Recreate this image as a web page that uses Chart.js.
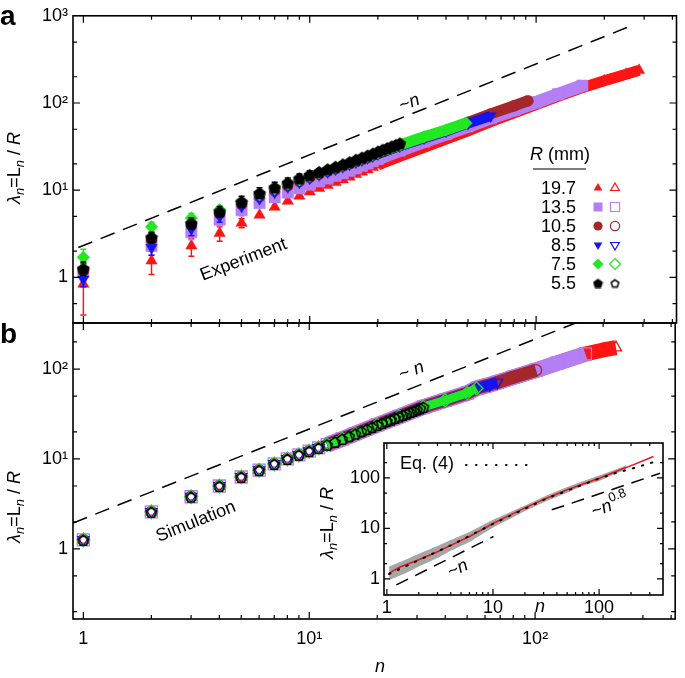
<!DOCTYPE html>
<html>
<head>
<meta charset="utf-8">
<script src="https://cdn.jsdelivr.net/npm/chart.js@4.4.0/dist/chart.umd.min.js"></script>
<style>
  body { margin: 0; background: #fff; }
  #wrap { position: relative; width: 685px; height: 678px; }
  canvas { position: absolute; left: 0; top: 0; }
</style>
</head>
<body>
<div id="wrap">
  <canvas id="chartA" width="685" height="678"></canvas>
  <canvas id="chartB" width="685" height="678"></canvas>
  <canvas id="chartC" width="685" height="678"></canvas>
</div>
<script>
const FONT = "'Liberation Sans', Arial, sans-serif";

// R (mm) of the six experiments / simulations
const radii = ['19.7', '13.5', '10.5', '8.5', '7.5', '5.5'];
const seriesColors = ['#ff1414', '#b47ef4', '#a3272b', '#1414f0', '#22e822', '#000000'];

// ---- panel a : experiment ----
const expRedN = [1,2,3,4,5,6,7,8,9,10,11,12,13,14,15,16,17,18,19,20,25,32,40,50,63,80,100,125,160,200,250,285];
const expRedL = [0.84,1.55,2.3,3.2,4.2,5.2,6.4,7.5,8.6,9.6,10.5,11.4,12.3,13.2,14.2,15.2,16.2,17.2,18.3,19.5,24.5,31,38.5,48,61,77,96,119,150,180,214,237];
const expPurN = [1,2,3,4,5,6,7,8,9,10,11,12,13,14,15,16,17,18,19,20,25,32,40,50,63,80,100,125,160];
const expPurL = [1.15,2.3,3.3,4.6,5.9,7.1,8.3,9.4,10.5,11.6,12.6,13.6,14.6,15.6,16.7,17.8,19,20.2,21.6,22.8,28.5,36,44,54,67,83,102,126,158];
const expBrnN = [1,2,3,4,5,6,7,8,9,10,11,12,13,14,15,16,17,18,19,20,25,32,40,50,63,80,92];
const expBrnL = [1.2,2.7,4.0,5.4,6.9,8.4,9.8,11.2,12.6,14,15.3,16.5,17.7,18.9,20.1,21.3,22.5,23.8,25.1,26.4,32.5,40,48,60,75,93,106];
const expBluN = [1,2,3,4,5,6,7,8,9,10,11,12,13,14,15,16,17,18,19,20,25,32,40,50,63];
const expBluL = [0.95,2.2,3.6,5.0,6.5,8,9.5,10.9,12.3,13.7,15,16.2,17.4,18.6,19.8,21,22.2,23.4,24.7,26,32,39.5,47.5,58,71];
const expGrnN = [1,2,3,4,5,6,7,8,9,10,11,12,13,14,15,16,17,18,19,20,25,32,40,49];
const expGrnL = [1.7,3.8,4.8,6.0,7.4,8.9,10.4,11.8,13.2,14.6,15.9,17.1,18.3,19.5,20.7,21.9,23.1,24.4,25.7,27,33,41,49,59];
const expBlkN = [1,2,3,4,5,6,7,8,9,10,11,12,13,14,15,16,17,18,19,20,21,22,23,24,25];
const expBlkL = [1.26,2.9,4.2,5.7,7.4,9.3,10.8,12.2,13.7,15,16.2,17.4,18.6,19.8,21,22.4,23.7,25,26.4,27.8,29.2,30.5,31.9,33.2,34.6];

// error bars (panel a)
const errRedN = [1,2,3,4,5];          const errRedLo = [0.37,1.08,1.75,2.6,3.7];   const errRedHi = [1.15,2.0,2.8,3.8,4.7];
const errPurN = [1,2,3,4,5];          const errPurLo = [0.9,1.8,2.7,3.9,5.1];      const errPurHi = [1.45,2.9,4.0,5.4,6.8];
const errBrnN = [1,2,3];              const errBrnLo = [1.0,2.3,3.5];              const errBrnHi = [1.45,3.2,4.6];
const errBluN = [1,2,3,4];            const errBluLo = [0.78,1.8,3.0,4.3];         const errBluHi = [1.15,2.7,4.2,5.7];
const errGrnN = [1,2,3];              const errGrnLo = [1.4,3.3,4.2];              const errGrnHi = [2.1,4.3,5.4];
const errBlkN = [1,2,3,4,5,6,7,8,9,10];
const errBlkLo = [1.05,2.5,3.6,4.9,6.4,8.1,9.5,10.8,12.2,13.5];
const errBlkHi = [1.5,3.3,4.8,6.5,8.5,10.7,12.3,13.8,15.3,16.7];

const dashAN = [0.95, 262];  const dashAL = [2.2, 765];

// ---- panel b : simulation ----
const simN = [1,2,3,4,5,6,7,8,9,10,11,12,14,16,20,25,32,40,50,55,63,68,80,101,125,167,200,228];
const simL = [1.26,2.58,3.8,5.0,6.3,7.5,8.8,10,11.1,12.2,13.3,14.4,16.7,19.1,23.9,29.7,37.8,45,54,61,67,71,81,97,116,147,163,173];
const simEnd = [228, 167, 101, 68, 55, 32];
const simBlkN = [1,2,3,4,5,6,7,8,9,10,11,12,13,14,15,16,17,18,19,20,21,22,23,24,25,26,27,28,29,30,31,32];
const simBlkL = [1.26,2.58,3.8,5.0,6.3,7.5,8.8,10,11.1,12.2,13.3,14.4,15.5,16.7,17.9,19.1,20.3,21.5,22.7,23.9,25.1,26.3,27.4,28.6,29.7,30.9,32,33.2,34.3,35.5,36.6,37.8];
const dashBN = [0.9, 400];   const dashBL = [1.94, 860];

// ---- inset ----
const grayN  = [1.05,1.5,2,3,4,6,10,15,20,32,50,70,100,150,180];
const grayHi = [1.75,2.4,3.15,4.5,5.9,8.5,14.8,21.5,28.5,45,66,86,112,152,178];
const grayLo = [0.95,1.3,1.75,2.6,3.6,5.4,10.4,16,22,35,51,70,87,126,150];
const meanN  = [1.05,1.33,2,3,4,6,10,20,32,50,100,150,209,325];
const meanL  = [1.3,1.72,2.4,3.45,4.6,6.9,12.5,25.5,39.6,58,98.5,138,181,264];
const eqN    = [1.05,2,4,10,32,100,150,209,325];
const eqL    = [1.25,2.35,4.6,12.3,39,97,128,155,205];
const dashN1N = [1.23, 10.1];  const dashN1L = [0.76, 6.9];
const dashN08N = [35.8, 376];  const dashN08L = [23.3, 123];

const ticksA = [1, 10, 100, 1000];
const ticksB = [1, 10, 100];
const ticksInset = [1, 10, 100];
const tickText = { 1: '1', 10: '10\u00B9', 100: '10\u00B2', 1000: '10\u00B3' };

// pentagon marker as an image point style
function pentagon(size, fill, stroke, lw) {
  const c = document.createElement('canvas');
  c.width = c.height = size;
  const g = c.getContext('2d');
  const r = size / 2 - lw;
  g.beginPath();
  for (let i = 0; i < 5; i++) {
    const a = -Math.PI / 2 + i * 2 * Math.PI / 5;
    g.lineTo(size / 2 + r * Math.cos(a), size / 2 + 0.8 + r * Math.sin(a));
  }
  g.closePath();
  if (fill) { g.fillStyle = fill; g.fill(); }
  if (stroke) { g.strokeStyle = stroke; g.lineWidth = lw; g.stroke(); }
  return c;
}
const pentFilled = pentagon(14, '#000', '#000', 0.8);
const pentOpen = pentagon(14, null, '#000', 1.5);
const pentFilledSmall = pentagon(11, '#000', '#000', 0.6);
const pentOpenSmall = pentagon(11, null, '#000', 1.5);

const shapes = ['triangle', 'rect', 'circle', 'triangle', 'rectRot', null];
const rotations = [0, 0, 0, 180, 0, 0];

const pts = (ns, ls) => ns.map((n, k) => ({ x: n, y: ls[k] }));
function errData(ns, lo, hi) {
  const d = [];
  ns.forEach((n, k) => { d.push({ x: n, y: lo[k] }, { x: n, y: hi[k] }, { x: n, y: null }); });
  return d;
}

// ---- datasets panel a ----
const expTable = [
  [expRedN, expRedL, errRedN, errRedLo, errRedHi, 6.5, 11],
  [expPurN, expPurL, errPurN, errPurLo, errPurHi, 8, 13],
  [expBrnN, expBrnL, errBrnN, errBrnLo, errBrnHi, 5.5, 11],
  [expBluN, expBluL, errBluN, errBluLo, errBluHi, 6.5, 10],
  [expGrnN, expGrnL, errGrnN, errGrnLo, errGrnHi, 6.3, 11],
  [expBlkN, expBlkL, errBlkN, errBlkLo, errBlkHi, 7, 0]
];
const datasetsA = [];
expTable.forEach((s, i) => {
  const col = seriesColors[i];
  datasetsA.push({
    data: errData(s[2], s[3], s[4]), showLine: true, spanGaps: false,
    borderColor: col, borderWidth: 1.5, pointStyle: 'line', pointRadius: 3,
    pointBorderColor: col, pointBorderWidth: 1.5, order: (6 - i) * 10 + 5
  });
  datasetsA.push({
    data: pts(s[0], s[1]), showLine: s[6] > 0, borderColor: col, borderWidth: s[6],
    borderCapStyle: 'butt', borderJoinStyle: 'round',
    segment: { borderColor: c => (c.p0.parsed.x >= 20 ? col : 'rgba(0,0,0,0)') },
    pointStyle: shapes[i] || pentFilled, pointRadius: s[5], pointRotation: rotations[i],
    pointBackgroundColor: col, pointBorderColor: col, pointBorderWidth: 0.5,
    order: (6 - i) * 10
  });
});
datasetsA.push({
  data: pts(dashAN, dashAL), borderColor: '#000', borderWidth: 1.5, borderDash: [15, 9],
  pointRadius: 0, clip: 0, order: 1
});

// ---- datasets panel b ----
const simRadius = [6.5, 8.5, 5.5, 6.5, 6.5, 7];
const simBand = [15, 16, 13, 10, 9, 0];
const datasetsB = [];
simEnd.forEach((end, i) => {
  const col = seriesColors[i];
  const ns = i === 5 ? simBlkN : simN.filter(n => n <= end);
  const ls = i === 5 ? simBlkL : simL.slice(0, ns.length);
  datasetsB.push({
    data: pts(ns, ls), showLine: simBand[i] > 0, borderColor: col, borderWidth: simBand[i],
    borderCapStyle: 'butt', borderJoinStyle: 'round',
    segment: { borderColor: c => (c.p0.parsed.x >= 12 ? col : 'rgba(0,0,0,0)') },
    pointStyle: shapes[i] || pentOpen, pointRadius: simRadius[i], pointRotation: rotations[i],
    pointBackgroundColor: 'rgba(0,0,0,0)', pointBorderColor: col, pointBorderWidth: 1.3,
    order: (6 - i) * 10
  });
});
datasetsB.push({
  data: pts(dashBN, dashBL), borderColor: '#000', borderWidth: 1.5, borderDash: [15, 9],
  pointRadius: 0, clip: 0, order: 1
});

// ---- datasets inset ----
const datasetsC = [
  { data: pts(grayN, grayHi), borderWidth: 0, pointRadius: 0, fill: '+1', backgroundColor: '#a6a6a6', order: 50 },
  { data: pts(grayN, grayLo), borderWidth: 0, pointRadius: 0, order: 51 },
  { data: pts(meanN, meanL), borderColor: '#e3161c', borderWidth: 1.5, pointRadius: 0, order: 20 },
  { data: pts(eqN, eqL), borderColor: '#000', borderWidth: 2, borderDash: [1.5, 8], borderCapStyle: 'round', pointRadius: 0, order: 10 },
  { data: pts(dashN1N, dashN1L), borderColor: '#000', borderWidth: 1.5, borderDash: [13, 8], pointRadius: 0, order: 5 },
  { data: pts(dashN08N, dashN08L), borderColor: '#000', borderWidth: 1.5, borderDash: [13, 8], pointRadius: 0, order: 5 }
];

// ---- drawing helpers ----
function richText(ctx, x, y, parts, angle, size, align) {
  ctx.save();
  ctx.translate(x, y);
  ctx.rotate(angle || 0);
  let w = 0;
  const spec = parts.map(p => {
    const fs = p[2] ? size * 0.72 : size;
    const f = (p[1] === 'i' ? 'italic ' : '') + fs + 'px ' + FONT;
    ctx.font = f;
    const m = ctx.measureText(p[0]).width;
    w += m;
    return { t: p[0], f, m, dy: p[2] === 1 ? size * 0.3 : p[2] === 2 ? -size * 0.38 : 0 };
  });
  let cx = align === 'left' ? 0 : -w / 2;
  ctx.textBaseline = 'middle';
  ctx.textAlign = 'left';
  ctx.fillStyle = '#000';
  spec.forEach(s => { ctx.font = s.f; ctx.fillText(s.t, cx, s.dy); cx += s.m; });
  ctx.restore();
}
const yTitle = [['\u03BB', 'i'], ['n', 'i', 1], ['=L', 'n'], ['n', 'i', 1], [' / ', 'n'], ['R', 'i']];

function slopeAngle(chart, p) {
  const x = chart.scales.x, y = chart.scales.y;
  const dx = x.getPixelForValue(10) - x.getPixelForValue(1);
  const dy = y.getPixelForValue(Math.pow(10, p)) - y.getPixelForValue(1);
  return Math.atan2(dy, dx);
}
function at(chart, n, l) {
  return [chart.scales.x.getPixelForValue(n), chart.scales.y.getPixelForValue(l)];
}

function frame(chart, major, minor, yMinors) {
  const { ctx, chartArea: a, scales: { x, y } } = chart;
  ctx.save();
  ctx.strokeStyle = '#000';
  ctx.lineWidth = 1.2;
  ctx.beginPath();
  for (let k = -2; k <= 3; k++) {
    for (let m = 1; m <= 9; m++) {
      const v = m * Math.pow(10, k);
      const len = m === 1 ? major : minor;
      const px = x.getPixelForValue(v);
      if (px > a.left + 1 && px < a.right - 1) {
        ctx.moveTo(px, a.bottom); ctx.lineTo(px, a.bottom - len);
        ctx.moveTo(px, a.top); ctx.lineTo(px, a.top + len);
      }
      if (m === 1 || yMinors.includes(m)) {
        const py = y.getPixelForValue(v);
        if (py > a.top + 1 && py < a.bottom - 1) {
          ctx.moveTo(a.left, py); ctx.lineTo(a.left + len, py);
          ctx.moveTo(a.right, py); ctx.lineTo(a.right - len, py);
        }
      }
    }
  }
  ctx.stroke();
  ctx.lineWidth = 1.6;
  ctx.strokeRect(a.left, a.top, a.right - a.left, a.bottom - a.top);
  ctx.restore();
}

function marker(ctx, i, x, y, filled) {
  const col = seriesColors[i];
  ctx.save();
  ctx.fillStyle = col; ctx.strokeStyle = col; ctx.lineWidth = 1.2;
  ctx.beginPath();
  const r = 5;
  if (i === 0 || i === 3) {
    const s = i === 0 ? 1 : -1;
    ctx.moveTo(x, y - s * r); ctx.lineTo(x + r * 0.87, y + s * r * 0.5); ctx.lineTo(x - r * 0.87, y + s * r * 0.5);
    ctx.closePath();
  } else if (i === 1) {
    ctx.rect(x - 4.5, y - 4.5, 9, 9);
  } else if (i === 2) {
    ctx.arc(x, y, 4.6, 0, 2 * Math.PI);
  } else if (i === 4) {
    ctx.moveTo(x, y - 5.5); ctx.lineTo(x + 5.5, y); ctx.lineTo(x, y + 5.5); ctx.lineTo(x - 5.5, y);
    ctx.closePath();
  }
  if (i === 5) {
    const img = filled ? pentFilledSmall : pentOpenSmall;
    ctx.drawImage(img, x - img.width / 2, y - img.height / 2);
  } else if (filled) ctx.fill();
  else ctx.stroke();
  ctx.restore();
}

function logAxis(min, max, ticks, labelFn, pad, fit) {
  return {
    type: 'logarithmic', min, max,
    afterBuildTicks: s => { s.ticks = ticks.map(v => ({ value: v })); },
    ticks: { callback: v => labelFn(v), font: { family: FONT, size: 18 }, color: '#000', autoSkip: false, maxRotation: 0, padding: pad },
    grid: { display: false, drawTicks: false },
    border: { display: false },
    afterFit: fit
  };
}

const baseOptions = {
  responsive: false, animation: false, devicePixelRatio: 1,
  plugins: { legend: { display: false }, tooltip: { enabled: false } },
  elements: { line: { tension: 0 } }
};

// ---- chart a ----
new Chart(document.getElementById('chartA'), {
  type: 'line',
  data: { datasets: datasetsA },
  options: Object.assign({}, baseOptions, {
    layout: { padding: { left: 0, right: 2, top: 15, bottom: 355 } },
    scales: {
      x: { type: 'logarithmic', min: 0.9, max: 417, display: false },
      y: logAxis(0.3, 1000, ticksA, v => tickText[v], 5, s => { s.width = 73; })
    }
  }),
  plugins: [{
    id: 'annA',
    afterDraw(chart) {
      const ctx = chart.ctx;
      frame(chart, 7, 4, [2, 5]);
      const ang = slopeAngle(chart, 1);
      let p = at(chart, 5.1, 1.59);
      richText(ctx, p[0], p[1], [['Experiment', 'n']], ang, 18);
      p = at(chart, 27.6, 100);
      richText(ctx, p[0], p[1], [['~', 'n'], ['n', 'i']], ang, 18);
      richText(ctx, 15, 168, yTitle, -Math.PI / 2, 18);
      ctx.save();
      ctx.fillStyle = '#000';
      ctx.font = 'bold 28px ' + FONT;
      ctx.textBaseline = 'alphabetic';
      ctx.fillText('a', 0, 25);
      ctx.restore();
      // legend
      richText(ctx, 560, 155, [['R', 'i'], [' (mm)', 'n']], 0, 18);
      ctx.save();
      ctx.strokeStyle = '#000'; ctx.lineWidth = 1.2;
      ctx.beginPath(); ctx.moveTo(533, 169); ctx.lineTo(586, 169); ctx.stroke();
      ctx.font = '18px ' + FONT; ctx.fillStyle = '#000';
      ctx.textAlign = 'right'; ctx.textBaseline = 'middle';
      radii.forEach((r, i) => {
        const yy = 188 + i * 19;
        ctx.fillText(r, 576, yy + 1);
        marker(ctx, i, 598, yy, true);
        marker(ctx, i, 615, yy, false);
      });
      ctx.restore();
    }
  }]
});

// ---- chart b ----
new Chart(document.getElementById('chartB'), {
  type: 'line',
  data: { datasets: datasetsB },
  options: Object.assign({}, baseOptions, {
    layout: { padding: { left: 0, right: 2, top: 323, bottom: 19 } },
    scales: {
      x: logAxis(0.9, 417, ticksB, v => tickText[v], 9, s => { s.height = 40; }),
      y: logAxis(0.166, 325, ticksB, v => tickText[v], 5, s => { s.width = 73; })
    }
  }),
  plugins: [{
    id: 'annB',
    afterDraw(chart) {
      const ctx = chart.ctx;
      frame(chart, 7, 4, [2, 5]);
      const ang = slopeAngle(chart, 1);
      let p = at(chart, 3.15, 2.0);
      richText(ctx, p[0], p[1], [['Simulation', 'n']], ang, 18);
      p = at(chart, 28.4, 95);
      richText(ctx, p[0], p[1], [['~ ', 'n'], ['n', 'i']], ang, 18);
      richText(ctx, 15, 507, yTitle, -Math.PI / 2, 18);
      richText(ctx, 380, 667, [['n', 'i']], 0, 18);
      ctx.save();
      ctx.fillStyle = '#000';
      ctx.font = 'bold 28px ' + FONT;
      ctx.fillText('b', 0, 343);
      ctx.restore();
    }
  }]
});

// ---- inset ----
new Chart(document.getElementById('chartC'), {
  type: 'line',
  data: { datasets: datasetsC },
  options: Object.assign({}, baseOptions, {
    layout: { padding: { left: 344, right: 22, top: 443, bottom: 58 } },
    scales: {
      x: logAxis(0.94, 400, ticksInset, v => String(v), 2, s => { s.height = 25; }),
      y: logAxis(0.48, 490, ticksInset, v => String(v), 4, s => { s.width = 40; })
    }
  }),
  plugins: [{
    id: 'annC',
    beforeDatasetsDraw(chart) {
      const { ctx, chartArea: a } = chart;
      ctx.save();
      ctx.fillStyle = '#fff';
      ctx.fillRect(a.left, a.top, a.right - a.left, a.bottom - a.top);
      ctx.restore();
    },
    afterDraw(chart) {
      const ctx = chart.ctx;
      frame(chart, 6, 3, [2, 5]);
      let p = at(chart, 4.67, 1.58);
      richText(ctx, p[0], p[1], [['~', 'n'], ['n', 'i']], slopeAngle(chart, 1), 18);
      p = at(chart, 127, 28);
      richText(ctx, p[0], p[1], [['~', 'n'], ['n', 'i'], ['0.8', 'n', 2]], slopeAngle(chart, 0.8), 18);
      richText(ctx, 400, 464, [['Eq. (4)', 'n']], 0, 18, 'left');
      ctx.save();
      ctx.strokeStyle = '#000'; ctx.lineWidth = 2; ctx.lineCap = 'round';
      ctx.setLineDash([0.5, 9.5]);
      ctx.beginPath(); ctx.moveTo(466, 465); ctx.lineTo(536, 465); ctx.stroke();
      ctx.restore();
      richText(ctx, 540, 607, [['n', 'i']], 0, 18);
      richText(ctx, 328, 523, yTitle, -Math.PI / 2, 18);
    }
  }]
});
</script>
</body>
</html>
